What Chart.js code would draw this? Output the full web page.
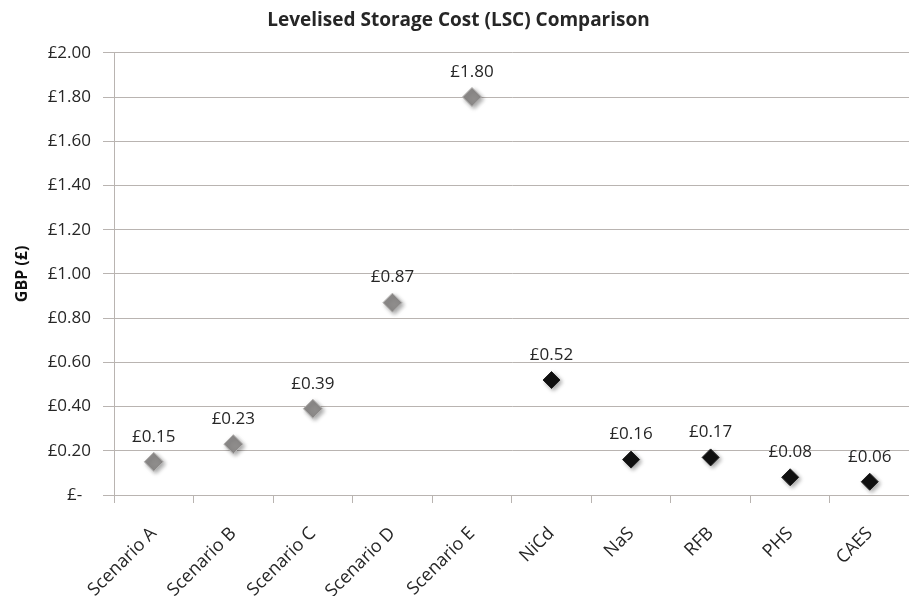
<!DOCTYPE html>
<html>
<head>
<meta charset="utf-8">
<script src="https://cdn.jsdelivr.net/npm/chart.js@4/dist/chart.umd.min.js"></script>
<style>
    html, body { margin: 0; padding: 0; background: #fff; overflow: hidden; }
    #wrap { width: 920px; height: 596px; }
</style>
</head>
<body>
<div id="wrap"><canvas id="lscChart" width="920" height="596"></canvas></div>
<script>
const categories = ["Scenario A", "Scenario B", "Scenario C", "Scenario D", "Scenario E",
                    "NiCd", "NaS", "RFB", "PHS", "CAES"];
const scenarioCost = [0.15, 0.23, 0.39, 0.87, 1.80, null, null, null, null, null];
const technologyCost = [null, null, null, null, null, 0.52, 0.16, 0.17, 0.08, 0.06];
const yTicks = [0, 0.2, 0.4, 0.6, 0.8, 1.0, 1.2, 1.4, 1.6, 1.8, 2.0];

const fontFamily = "'Open Sans', sans-serif";
const textColor = "#262626";
const gridColor = "#b9b4b1";

function money(v) {
    return v === 0 ? "£-  " : "£" + v.toFixed(2);
}

// marker shadow + value labels above each diamond
const pointExtras = {
    id: "pointExtras",
    beforeDatasetsDraw(chart) {
        const ctx = chart.ctx;
        ctx.save();
        ctx.shadowColor = "rgba(0,0,0,0.35)";
        ctx.shadowBlur = 4;
        ctx.shadowOffsetX = 2;
        ctx.shadowOffsetY = 2;
    },
    afterDatasetsDraw(chart) {
        const ctx = chart.ctx;
        ctx.restore();
        ctx.save();
        ctx.font = "17px " + fontFamily;
        ctx.fillStyle = textColor;
        ctx.textAlign = "center";
        ctx.textBaseline = "middle";
        chart.data.datasets.forEach((ds, i) => {
            chart.getDatasetMeta(i).data.forEach((pt, j) => {
                const v = ds.data[j];
                if (v === null) return;
                ctx.fillText(money(v), pt.x, pt.y - 25);
            });
        });
        ctx.restore();
    }
};

new Chart(document.getElementById("lscChart"), {
    type: "line",
    data: {
        labels: categories,
        datasets: [{
            label: "Scenarios",
            data: scenarioCost,
            showLine: false,
            pointStyle: "rectRot",
            pointRadius: 9.5,
            pointBackgroundColor: "#8e8c8b",
            pointBorderColor: "#b5b3b2",
            pointBorderWidth: 1
        }, {
            label: "Technologies",
            data: technologyCost,
            showLine: false,
            pointStyle: "rectRot",
            pointRadius: 8.5,
            pointBackgroundColor: "#111",
            pointBorderColor: "#222",
            pointBorderWidth: 1
        }]
    },
    options: {
        responsive: false,
        animation: false,
        devicePixelRatio: 1,
        layout: { padding: { top: 0, right: 3, bottom: 0, left: 0 } },
        plugins: {
            legend: { display: false },
            tooltip: { enabled: false },
            title: {
                display: true,
                text: "Levelised Storage Cost (LSC) Comparison",
                color: textColor,
                font: { family: fontFamily, size: 19, weight: "bold" },
                padding: { top: 9, bottom: 21 }
            }
        },
        scales: {
            x: {
                offset: true,
                afterFit(axis) {
                    axis.height = 101;
                },
                grid: {
                    offset: true,
                    drawOnChartArea: false,
                    drawTicks: true,
                    tickLength: 8,
                    color: gridColor
                },
                border: { color: gridColor },
                ticks: {
                    color: textColor,
                    font: { family: fontFamily, size: 18 },
                    minRotation: 45,
                    maxRotation: 45,
                    padding: 20
                }
            },
            y: {
                min: 0,
                max: 2,
                afterBuildTicks(axis) {
                    axis.ticks = yTicks.map(v => ({ value: v }));
                },
                afterFit(axis) {
                    axis.width = 114;
                },
                grid: { color: gridColor, tickLength: 11 },
                border: { color: gridColor },
                ticks: {
                    color: textColor,
                    font: { family: fontFamily, size: 17 },
                    padding: 12,
                    callback: v => money(v)
                },
                title: {
                    display: true,
                    text: "GBP (£)",
                    color: "#111",
                    font: { family: fontFamily, size: 16, weight: "bold" },
                    padding: { top: 13, bottom: 0 }
                }
            }
        }
    },
    plugins: [pointExtras]
});
</script>
</body>
</html>
